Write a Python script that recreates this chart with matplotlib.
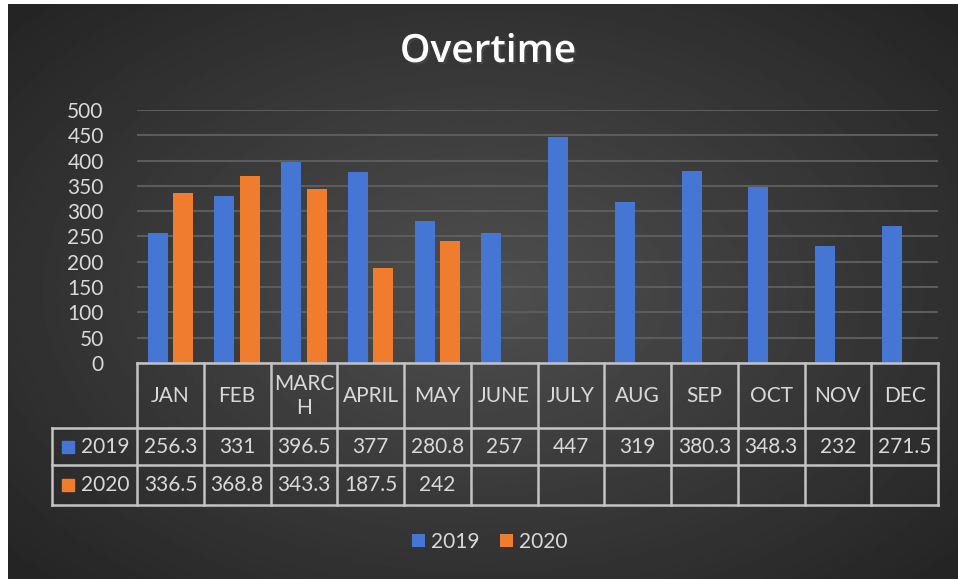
import numpy as np
from matplotlib import pyplot as plt
import matplotlib.patheffects as pe

MONTHS = ['JAN', 'FEB', 'MARC\nH', 'APRIL', 'MAY', 'JUNE', 'JULY', 'AUG', 'SEP', 'OCT', 'NOV', 'DEC']
OVERTIME_2019 = [256.3, 331, 396.5, 377, 280.8, 257, 447, 319, 380.3, 348.3, 232, 271.5]
OVERTIME_2020 = [336.5, 368.8, 343.3, 187.5, 242]
SERIES = ['2019', '2020']
Y_TICKS = list(range(0, 501, 50))

BLUE = '#4676d4'
ORANGE = '#ef7d2d'
TEXT = '#d9d9d9'
LINE = '#c4c4c4'
FONTSIZE = 15

plt.rcParams['font.family'] = ['Lato', 'DejaVu Sans']

W, H = 958, 579
fig = plt.figure(figsize=(W / 100, H / 100), dpi=100, facecolor='white')

# dark radial background
bg = fig.add_axes([8 / W, 0, 950 / W, 575 / H])
yy, xx = np.mgrid[-1:1:300j, -1:1:500j]
r = np.sqrt((xx * 0.95) ** 2 + (yy * 0.9) ** 2)
bg.imshow(0.31 - 0.13 * np.clip(r, 0, 1.3), cmap='gray', vmin=0, vmax=1,
          aspect='auto', extent=[0, 1, 0, 1])
bg.axis('off')

fig.text(488 / W, 1 - 52 / H, 'Overtime', ha='center', va='center', fontsize=28,
         fontweight='semibold', color='white', family=['Open Sans', 'DejaVu Sans'],
         path_effects=[pe.withSimplePatchShadow(offset=(1.5, -1.5), alpha=0.6)])

# bars
ax = fig.add_axes([137 / W, 1 - 363 / H, 801 / W, 253 / H])
ax.set_facecolor('none')
x = np.arange(len(MONTHS))
width = 0.3
b1 = ax.bar(x - 0.19, OVERTIME_2019, width, color=BLUE, zorder=3, label=SERIES[0])
b2 = ax.bar(x[:len(OVERTIME_2020)] + 0.19, OVERTIME_2020, width, color=ORANGE,
            zorder=3, label=SERIES[1])
ax.set_xlim(-0.5, len(MONTHS) - 0.5)
ax.set_ylim(0, 500)
ax.set_yticks(Y_TICKS)
ax.set_xticks([])
ax.tick_params(axis='y', length=0, pad=24, labelcolor=TEXT, labelsize=FONTSIZE)
ax.grid(axis='y', color='#5c5c5c', linewidth=1.5, zorder=0)
for s in ax.spines.values():
    s.set_visible(False)

# data table
tax = fig.add_axes([137 / W, 1 - 505 / H, 801 / W, 142 / H])
tax.set_xlim(-0.5, len(MONTHS) - 0.5)
tax.set_ylim(142, 0)
tax.axis('off')
left = -0.5 - 85 / 66.75
rows = [0, 65, 102, 142]
lw = 1.8
tax.plot([-0.5, 11.5], [0, 0], color=LINE, lw=lw, clip_on=False)
for yv in rows[1:]:
    tax.plot([left, 11.5], [yv, yv], color=LINE, lw=lw, clip_on=False)
tax.plot([left, left], [65, 142], color=LINE, lw=lw, clip_on=False)
for i in range(len(MONTHS) + 1):
    tax.plot([i - 0.5, i - 0.5], [0, 142], color=LINE, lw=lw, clip_on=False)

for i, m in enumerate(MONTHS):
    tax.text(i, 33, m, ha='center', va='center', color=TEXT, fontsize=FONTSIZE,
             linespacing=1.25)
for row_y, vals in zip([84, 122], [OVERTIME_2019, OVERTIME_2020]):
    for i, v in enumerate(vals):
        tax.text(i, row_y, f'{v:g}', ha='center', va='center', color=TEXT,
                 fontsize=FONTSIZE)
for row_y, name, c in zip([84, 122], SERIES, [BLUE, ORANGE]):
    tax.plot(-0.5 - 69 / 66.75, row_y, 's', color=c, markersize=8, clip_on=False)
    tax.text(-0.5 - 56 / 66.75, row_y, name, ha='left', va='center', color=TEXT,
             fontsize=FONTSIZE)

fig.legend(handles=[b1, b2], loc='center', bbox_to_anchor=(490 / W, 1 - 542 / H),
           ncol=2, frameon=False, handlelength=0.6, handleheight=0.6,
           handletextpad=0.3, columnspacing=1.0, fontsize=FONTSIZE,
           labelcolor=TEXT)

fig.savefig('out.png', dpi=100, facecolor='white')
